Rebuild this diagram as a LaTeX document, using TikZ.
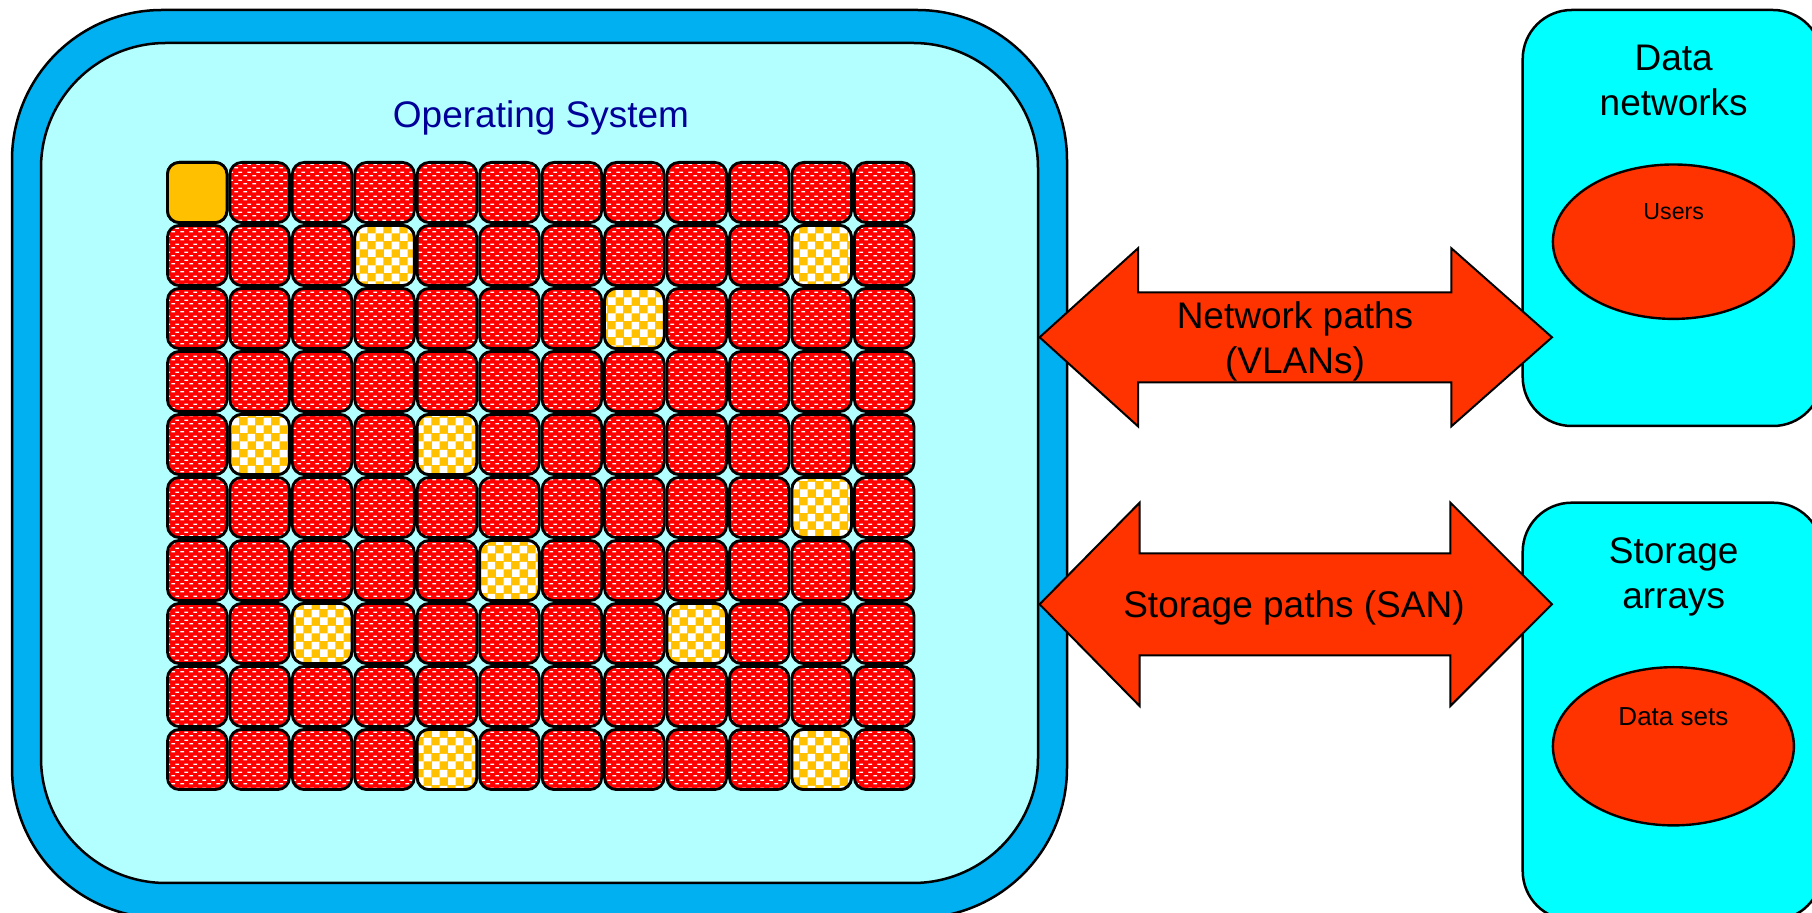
\documentclass[tikz,border=0pt]{standalone}
\usepackage{fontspec}
\setmainfont{Liberation Sans}
\usetikzlibrary{patterns,shapes.geometric}

% white dash texture laid over the red partition cells
\pgfdeclarepatternformonly{brickdash}{\pgfqpoint{0pt}{0pt}}{\pgfqpoint{4.5pt}{4pt}}{\pgfqpoint{4.5pt}{4pt}}{%
  \pgfpathrectangle{\pgfqpoint{0.2pt}{0.3pt}}{\pgfqpoint{2.1pt}{0.7pt}}%
  \pgfpathrectangle{\pgfqpoint{2.45pt}{2.3pt}}{\pgfqpoint{2.05pt}{0.7pt}}%
  \pgfusepath{fill}}
% checkerboard for the highlighted partitions
\pgfdeclarepatternformonly{checker}{\pgfqpoint{0pt}{0pt}}{\pgfqpoint{8pt}{8pt}}{\pgfqpoint{8pt}{8pt}}{%
  \pgfpathrectangle{\pgfqpoint{0pt}{0pt}}{\pgfqpoint{4pt}{4pt}}%
  \pgfpathrectangle{\pgfqpoint{4pt}{4pt}}{\pgfqpoint{4pt}{4pt}}%
  \pgfusepath{fill}}

\definecolor{osouter}{HTML}{00B0F0}
\definecolor{osinner}{HTML}{B3FFFF}
\definecolor{sidebox}{HTML}{00FFFF}
\definecolor{hotred}{HTML}{FF3300}
\definecolor{cellred}{HTML}{FF0000}
\definecolor{amber}{HTML}{FFC000}
\definecolor{osblue}{HTML}{000099}

\newcommand\bigtext{\fontsize{18.5}{22.5}\selectfont}

\tikzset{
  cellbase/.style={draw=black, line width=1.4pt, rounded corners=6pt},
  redcell/.style={cellbase, preaction={fill=cellred}, pattern=brickdash, pattern color=white},
  checkcell/.style={cellbase, preaction={fill=amber}, pattern=checker, pattern color=white},
  ambercell/.style={cellbase, fill=amber},
  boxline/.style={draw=black, line width=1.25pt},
  blob/.style={ellipse, draw=black, fill=hotred, line width=1.2pt, inner sep=0pt},
  blockarrow/.style={draw=black, fill=hotred, line width=1pt, line join=miter},
  label/.style={anchor=base, inner sep=0pt, font=\bigtext}
}

\begin{document}
\begin{tikzpicture}[x=0.5pt, y=-0.5pt]
\useasboundingbox (0,0) rectangle (1812,913);
\clip (0,0) rectangle (1812,913);
\fill[white] (0,0) rectangle (1812,913);

% operating system frame
\path[boxline, fill=osouter, rounded corners=75pt] (12,10) rectangle (1067,918);
\path[boxline, fill=osinner, rounded corners=62.5pt] (41,43) rectangle (1038,883);
\node[label, text=osblue] (ostitle) at (541,127.3) {Operating System};

% partition grid: 12 x 10
\foreach \c in {0,...,11}{
  \foreach \r in {0,...,9}{
    \path[redcell] ({167.4+62.45*\c},{162.4+63*\r}) rectangle ++(59.6,60.2);
  }
}
\foreach \c/\r in {3/1,10/1,7/2,1/4,4/4,10/5,5/6,2/7,8/7,4/9,10/9}{
  \path[checkcell] ({167.4+62.45*\c},{162.4+63*\r}) rectangle ++(59.6,60.2);
}
\path[ambercell] (167.4,162.4) rectangle ++(59.6,60.2);

% data networks
\path[boxline, fill=sidebox, rounded corners=24.5pt] (1522.7,10) rectangle (1822,426);
\node[label] (dn1) at (1673.7,70.7) {Data};
\node[label] (dn2) at (1673.7,116) {networks};
\node[blob, minimum width=120.5pt, minimum height=77.2pt] (users) at (1673.4,241.7) {};
\node[anchor=base, inner sep=0pt, font=\fontsize{11.6}{14}\selectfont] (userstxt) at (1673.7,220) {Users};

% storage arrays
\path[boxline, fill=sidebox, rounded corners=24.5pt] (1522.7,502.7) rectangle (1822,920);
\node[label] (sa1) at (1673.7,563.3) {Storage};
\node[label] (sa2) at (1673.7,608.3) {arrays};
\node[blob, minimum width=120.5pt, minimum height=79.1pt] (datasets) at (1673.4,746.3) {};
\node[anchor=base, inner sep=0pt, font=\fontsize{13}{16}\selectfont] (dstxt) at (1673.4,725.7) {Data sets};

% network paths
\path[blockarrow] (1039.6,337.3) -- (1138,248.3) -- (1138,292.3) -- (1451.4,292.3)
  -- (1451.4,248.3) -- (1552,337.3) -- (1451.4,426.3) -- (1451.4,382.3)
  -- (1138,382.3) -- (1138,426.3) -- cycle;
\node[label] (np1) at (1295,329) {Network paths};
\node[label] (np2) at (1295,374) {(VLANs)};

% storage paths
\path[blockarrow] (1039.6,604.3) -- (1139.6,502.7) -- (1139.6,553.3) -- (1450.4,553.3)
  -- (1450.4,502.7) -- (1552,604.3) -- (1450.4,706) -- (1450.4,655.3)
  -- (1139.6,655.3) -- (1139.6,706) -- cycle;
\node[label] (sp) at (1294,617.7) {Storage paths (SAN)};
\end{tikzpicture}
\end{document}
